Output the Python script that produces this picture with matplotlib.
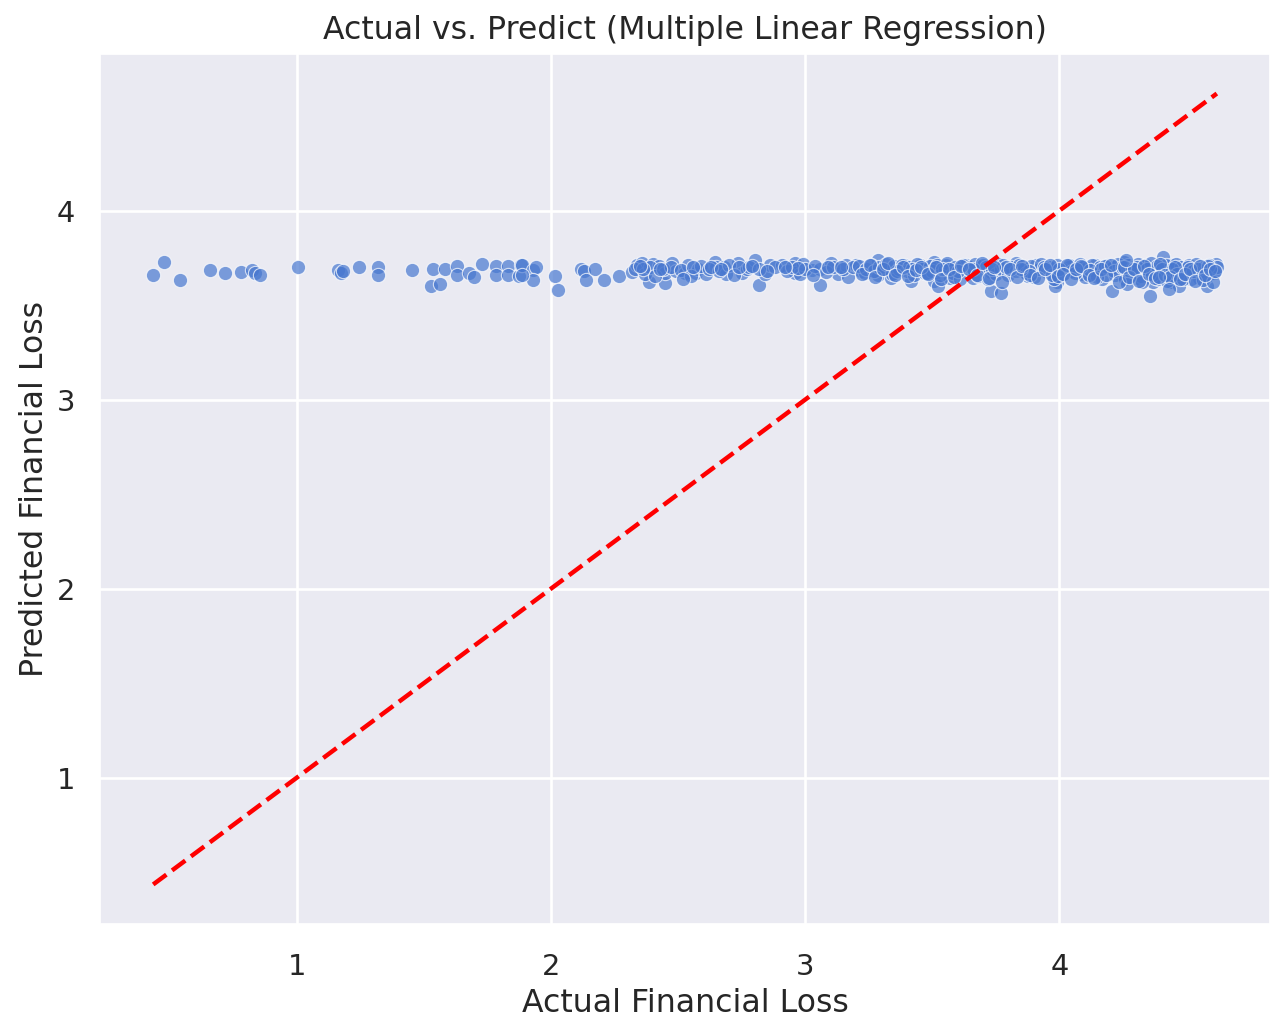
import numpy as np
import matplotlib
matplotlib.use("Agg")
import matplotlib.pyplot as plt
import seaborn as sns

# ---- data ----
actual_sparse = [0.434, 0.476, 0.538, 0.656, 0.718, 0.780, 0.822, 0.835, 0.855, 1.003,
                 1.162, 1.175, 1.180, 1.244, 1.319, 1.319, 1.454, 1.535, 1.528, 1.561,
                 1.584, 1.629, 1.629, 1.678, 1.698, 1.727, 1.783, 1.783, 1.829, 1.829,
                 1.875, 1.880, 1.887, 1.927, 1.940, 1.927, 1.887]
pred_sparse = [3.661, 3.726, 3.635, 3.684, 3.670, 3.678, 3.687, 3.670, 3.661, 3.700,
               3.687, 3.670, 3.680, 3.700, 3.700, 3.661, 3.684, 3.693, 3.603, 3.612,
               3.693, 3.705, 3.660, 3.670, 3.648, 3.719, 3.705, 3.660, 3.705, 3.660,
               3.652, 3.710, 3.714, 3.687, 3.700, 3.635, 3.660]

actual_mid = [2.016, 2.029, 2.116, 2.130, 2.136, 2.173, 2.208, 2.267, 2.319, 2.340,
              2.358, 2.384, 2.400, 2.424, 2.450, 2.450, 2.476, 2.490, 2.528, 2.540,
              2.570, 2.580, 2.610, 2.646, 2.650, 2.680, 2.690, 2.737, 2.750, 2.770,
              2.803, 2.818, 2.840, 2.860, 2.907, 2.960, 2.960, 2.980, 2.990, 3.025,
              3.057, 3.060, 3.103, 3.130, 3.162, 3.170, 3.200, 3.220,
              2.33, 2.37, 2.39, 2.41, 2.44, 2.47, 2.51, 2.55, 2.59, 2.62,
              2.66, 2.70, 2.72, 2.78, 2.82, 2.88, 2.93, 2.95, 3.00, 3.04,
              3.08, 3.11, 3.15, 3.19, 2.36, 2.52, 2.63, 2.74, 2.85, 2.97, 3.09]
pred_mid = [3.656, 3.582, 3.690, 3.680, 3.635, 3.693, 3.635, 3.652, 3.678, 3.710,
            3.722, 3.620, 3.720, 3.705, 3.617, 3.670, 3.722, 3.680, 3.670, 3.710,
            3.670, 3.690, 3.665, 3.731, 3.700, 3.700, 3.665, 3.722, 3.670, 3.690,
            3.740, 3.605, 3.665, 3.710, 3.714, 3.722, 3.670, 3.665, 3.720, 3.687,
            3.608, 3.690, 3.722, 3.665, 3.714, 3.650, 3.710, 3.680,
            3.690, 3.665, 3.700, 3.655, 3.690, 3.700, 3.685, 3.655, 3.705, 3.690,
            3.680, 3.710, 3.660, 3.700, 3.690, 3.700, 3.680, 3.700, 3.690, 3.705,
            3.675, 3.700, 3.690, 3.700, 3.690, 3.640, 3.700, 3.700, 3.680, 3.695, 3.700]

actual_dense_a = [3.234, 3.286, 3.286, 3.300, 3.338, 3.390, 3.417, 3.450, 3.508, 3.508,
                  3.522, 3.554, 3.570, 3.633, 3.660, 3.730, 3.730, 3.770, 3.760, 3.829,
                  3.875, 3.910, 3.985, 3.990, 3.985, 4.040, 4.090, 4.140, 4.208, 4.240,
                  4.254, 4.300, 4.358, 4.370, 4.410, 4.440, 4.440, 4.500, 4.550, 4.593,
                  4.615, 4.580,
                  3.21, 3.24, 3.26, 3.27, 3.29, 3.31, 3.32, 3.34, 3.35, 3.37,
                  3.38, 3.40, 3.41, 3.43, 3.44, 3.46, 3.47, 3.49, 3.50, 3.52,
                  3.53, 3.55, 3.56, 3.58, 3.59, 3.61, 3.62, 3.64, 3.65, 3.67,
                  3.68, 3.70]
pred_dense_a = [3.670, 3.740, 3.660, 3.700, 3.643, 3.714, 3.626, 3.714, 3.731, 3.626,
                3.600, 3.714, 3.646, 3.714, 3.646, 3.678, 3.573, 3.564, 3.720, 3.722,
                3.652, 3.710, 3.678, 3.620, 3.600, 3.700, 3.665, 3.710, 3.573, 3.665,
                3.731, 3.646, 3.547, 3.620, 3.757, 3.710, 3.620, 3.687, 3.646, 3.678,
                3.720, 3.600,
                3.705, 3.690, 3.715, 3.680, 3.700, 3.690, 3.720, 3.665, 3.705, 3.690,
                3.715, 3.680, 3.700, 3.660, 3.720, 3.690, 3.670, 3.705, 3.680, 3.715,
                3.660, 3.690, 3.725, 3.670, 3.700, 3.640, 3.715, 3.690, 3.700, 3.720,
                3.655, 3.710]

actual_dense_b = [3.71, 3.72, 3.74, 3.75, 3.77, 3.78, 3.80, 3.81, 3.83, 3.84,
                  3.86, 3.87, 3.89, 3.90, 3.92, 3.93, 3.95, 3.96, 3.98, 3.99,
                  4.01, 4.02, 4.04, 4.05, 4.07, 4.08, 4.10, 4.11, 4.13, 4.14,
                  4.16, 4.17, 4.19, 4.20,
                  4.21, 4.22, 4.23, 4.25, 4.26, 4.27, 4.28, 4.29, 4.31, 4.32,
                  4.33, 4.34, 4.35, 4.36, 4.38, 4.39, 4.40, 4.41, 4.42, 4.43,
                  4.45, 4.46, 4.47, 4.48, 4.49, 4.51, 4.52, 4.53, 4.54, 4.56,
                  4.57, 4.58, 4.59, 4.60, 4.61, 4.62,
                  3.88, 3.94, 3.97, 4.00, 4.03, 4.06, 4.09, 4.12, 4.15, 4.18,
                  4.215, 4.245, 4.265, 4.285, 4.305, 4.325, 4.345, 4.365, 4.385, 4.405,
                  4.425, 4.445, 4.465, 4.485, 4.505, 4.525, 4.545, 4.565, 4.585, 4.605,
                  3.36, 3.42, 3.48, 3.54, 3.60, 3.66, 3.735, 3.79, 3.85]
pred_dense_b = [3.700, 3.640, 3.715, 3.665, 3.690, 3.710, 3.660, 3.700, 3.680, 3.715,
                3.690, 3.670, 3.705, 3.650, 3.690, 3.720, 3.675, 3.700, 3.640, 3.710,
                3.690, 3.665, 3.715, 3.680, 3.700, 3.720, 3.650, 3.695, 3.710, 3.670,
                3.700, 3.640, 3.715, 3.690,
                3.700, 3.660, 3.720, 3.690, 3.640, 3.710, 3.680, 3.700, 3.720, 3.655,
                3.690, 3.710, 3.670, 3.725, 3.690, 3.640, 3.700, 3.680, 3.715, 3.660,
                3.690, 3.720, 3.600, 3.700, 3.675, 3.710, 3.640, 3.690, 3.720, 3.680,
                3.700, 3.655, 3.715, 3.690, 3.670, 3.700,
                3.680, 3.700, 3.660, 3.690, 3.715, 3.670, 3.700, 3.685, 3.650, 3.705,
                3.680, 3.700, 3.610, 3.690, 3.700, 3.620, 3.690, 3.660, 3.705, 3.690,
                3.630, 3.690, 3.665, 3.640, 3.700, 3.680, 3.690, 3.635, 3.705, 3.625,
                3.680, 3.690, 3.670, 3.690, 3.680, 3.690, 3.690, 3.700, 3.690]

actual_dense_c = [3.225, 3.255, 3.275, 3.305, 3.325, 3.355, 3.385, 3.405, 3.435, 3.455,
                  3.485, 3.515, 3.535, 3.565, 3.585, 3.615, 3.645, 3.675, 3.695, 3.725,
                  3.745, 3.775, 3.805, 3.835, 3.855, 3.885, 3.915, 3.945, 3.965, 3.995,
                  4.015, 4.045, 4.065, 4.085, 4.115, 4.135, 4.165, 4.185, 4.205, 4.235,
                  4.255, 4.275, 4.295, 4.315, 4.335, 4.355, 4.375, 4.395, 4.415, 4.435,
                  4.455, 4.475, 4.495, 4.515, 4.535, 4.555, 4.575, 4.595, 4.612, 4.432,
                  2.35, 2.43, 2.56, 2.67, 2.79, 2.92, 3.03, 3.14, 4.262, 4.392]
pred_dense_c = [3.665, 3.715, 3.650, 3.690, 3.725, 3.660, 3.700, 3.655, 3.685, 3.700,
                3.665, 3.700, 3.640, 3.690, 3.650, 3.705, 3.690, 3.660, 3.725, 3.645,
                3.700, 3.625, 3.690, 3.650, 3.705, 3.660, 3.645, 3.690, 3.710, 3.655,
                3.665, 3.640, 3.690, 3.705, 3.660, 3.645, 3.690, 3.660, 3.710, 3.620,
                3.700, 3.650, 3.690, 3.630, 3.705, 3.665, 3.645, 3.720, 3.660, 3.650,
                3.700, 3.640, 3.665, 3.690, 3.630, 3.705, 3.660, 3.690, 3.680, 3.585,
                3.705, 3.690, 3.700, 3.690, 3.705, 3.700, 3.660, 3.700, 3.740, 3.650]

title = "Actual vs. Predict (Multiple Linear Regression)"
xlabel = "Actual Financial Loss"
ylabel = "Predicted Financial Loss"

actual = np.array(actual_sparse + actual_mid + actual_dense_a + actual_dense_b + actual_dense_c)
predicted = np.array(pred_sparse + pred_mid + pred_dense_a + pred_dense_b + pred_dense_c)

# ---- style ----
sns.set_theme(style="darkgrid")
plt.rcParams["font.family"] = ["DejaVu Sans"]
plt.rcParams["grid.linewidth"] = 1.9

fig = plt.figure(figsize=(12.70, 10.19), dpi=100)
ax = fig.add_axes([100 / 1270, (1019 - 924) / 1019, 1170 / 1270, (924 - 54) / 1019])

ax.scatter(actual, predicted, s=105, color="#4878d0", alpha=0.7,
           edgecolor="white", linewidth=0.8, zorder=2)
lo, hi = actual.min(), actual.max()
ax.plot([lo, hi], [lo, hi], linestyle="--", color="red", lw=3.2, zorder=3)

ax.set_xticks([1, 2, 3, 4])
ax.set_yticks([1, 2, 3, 4])
ax.tick_params(axis="x", labelsize=20.8, colors=".15", length=0, pad=21)
ax.tick_params(axis="y", labelsize=20.8, colors=".15", length=0, pad=18)
ax.set_title(title, fontsize=22.7, color=".15", pad=11)
ax.set_xlabel(xlabel, fontsize=22.7, color=".15", labelpad=5)
ax.set_ylabel(ylabel, fontsize=22.7, color=".15", labelpad=5)

fig.savefig("out.png", dpi=100)
